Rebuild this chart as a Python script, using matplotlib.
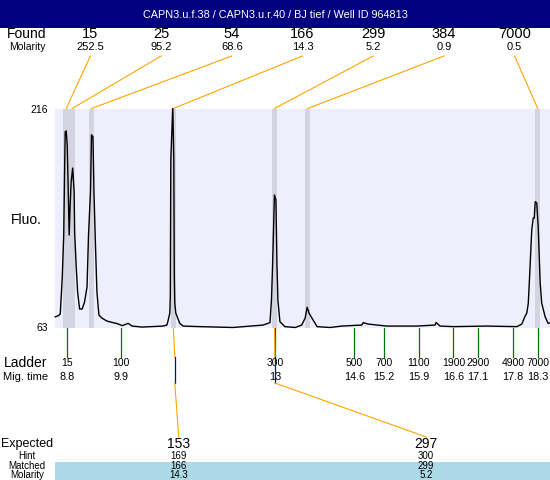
import matplotlib
matplotlib.use('Agg')
import matplotlib.pyplot as plt
from matplotlib.patches import Rectangle

plt.rcParams['font.family'] = ['Liberation Sans', 'DejaVu Sans']

title = 'CAPN3.u.f.38 / CAPN3.u.r.40 / BJ tief / Well ID 964813'

# electropherogram trace
trace_time = [8.57, 8.63, 8.67, 8.71, 8.74, 8.76, 8.77, 8.79, 8.81, 8.83,
              8.85, 8.87, 8.89, 8.92, 8.95, 8.96, 8.99, 9.02, 9.06, 9.11,
              9.16, 9.21, 9.24, 9.28, 9.30, 9.33, 9.35, 9.38, 9.41, 9.45,
              9.51, 9.61, 9.71, 9.82, 9.92, 10.04, 10.12, 10.32, 10.74, 10.82,
              10.84, 10.88, 10.89, 10.90, 10.92, 10.94, 10.95, 10.96, 10.97, 10.98,
              11.00, 11.08, 11.15, 11.49, 12.15, 12.76, 12.90, 12.93, 12.95, 12.97,
              12.99, 13.02, 13.04, 13.06, 13.10, 13.20, 13.41, 13.54, 13.61, 13.65,
              13.69, 13.77, 13.85, 14.11, 14.35, 14.75, 14.78, 14.88, 15.25, 15.86,
              16.23, 16.25, 16.33, 16.60, 17.27, 17.88, 17.98, 18.04, 18.08, 18.11,
              18.14, 18.18, 18.21, 18.23, 18.25, 18.28, 18.31, 18.35, 18.38, 18.45,
              18.51, 18.55]
trace_fluo = [70.5, 71.2, 72.4, 97.6, 127.6, 178.6, 199.8, 200.3, 190.5, 160.4,
              127.6, 148.6, 164.7, 174.4, 157.7, 129.7, 106.7, 87.8, 75.9, 75.9,
              80.8, 91.3, 127.6, 157.7, 197.6, 196.2, 157.0, 120.7, 87.8, 71.7,
              69.6, 67.5, 66.6, 65.7, 64.3, 65.9, 64.0, 63.3, 64.0, 64.7,
              67.1, 73.1, 85.0, 180.1, 198.9, 216.0, 198.9, 180.1, 100.0, 80.0,
              73.1, 65.9, 64.0, 63.6, 63.0, 64.7, 66.4, 82.2, 103.2, 129.0,
              155.6, 152.1, 108.1, 82.2, 67.1, 63.6, 63.0, 64.7, 69.6, 77.1,
              72.9, 68.2, 63.6, 63.0, 64.0, 64.7, 66.4, 65.4, 64.0, 64.0,
              64.7, 66.5, 64.0, 63.6, 64.0, 63.6, 65.4, 70.5, 73.1, 79.9,
              101.1, 131.1, 139.5, 139.5, 150.9, 150.0, 133.4, 94.1, 80.1, 70.5,
              65.9, 66.1]

found_size = [15, 25, 54, 166, 299, 384, 7000]
found_molarity = ['252.5', '95.2', '68.6', '14.3', '5.2', '0.9', '0.5']
found_time = [8.79, 8.91, 9.30, 10.95, 12.99, 13.66, 18.30]

ladder_size = [15, 100, 300, 500, 700, 1100, 1900, 2900, 4900, 7000]
ladder_time = [8.8, 9.9, 13, 14.6, 15.2, 15.9, 16.6, 17.1, 17.8, 18.3]

expected_size = [153, 297]
expected_hint = [169, 300]
expected_matched = [166, 299]
expected_molarity = ['14.3', '5.2']
expected_found_time = [10.95, 12.99]
matched_time = [10.98, 13.0]

fluo_min, fluo_max = 63, 216
time_min, time_max = 8.564, 18.548

W, H = 550, 480
fig = plt.figure(figsize=(5.5, 4.8), dpi=100)
bg = fig.add_axes([0, 0, 1, 1])
bg.set_xlim(0, W)
bg.set_ylim(H, 0)
bg.axis('off')

px0, px1, py0, py1 = 55, 550, 108.5, 327.5
ax = fig.add_axes([px0 / W, 1 - py1 / H, (px1 - px0) / W, (py1 - py0) / H])
ax.set_xlim(time_min, time_max)
ax.set_ylim(fluo_min, fluo_max)
ax.set_facecolor('#EEEEFC')
for s in ax.spines.values():
    s.set_visible(False)
ax.set_xticks([])
ax.set_yticks([])
for t in found_time:
    ax.axvspan(t - 0.055, t + 0.055, color='#D4D4E0', lw=0, zorder=1)
ax.plot(trace_time, trace_fluo, color='black', lw=1, zorder=2, clip_on=False)


def tx(t):
    # time -> pixel x on the background axes
    xd = ax.transData.transform((t, fluo_min))[0]
    return bg.transData.inverted().transform((xd, 0))[0]


orange = '#FFA500'
green = '#007000'

# header
bg.add_patch(Rectangle((0, 0), W, 28, color='#000080', lw=0))
bg.text(W / 2, 14.5, title, color='white', fontsize=7.8, ha='center', va='center')

# found row
bg.text(27, 34, 'Found', fontsize=10, ha='center', va='center')
bg.text(27, 47, 'Molarity', fontsize=7.5, ha='center', va='center')
n = len(found_size)
for i, (sz, mol, t) in enumerate(zip(found_size, found_molarity, found_time)):
    x = px0 + (i + 0.5) * (px1 - px0) / n
    bg.text(x, 34, str(sz), fontsize=10.5, ha='center', va='center')
    bg.text(x, 47, mol, fontsize=8, ha='center', va='center')
    bg.plot([x, tx(t)], [56, py0], color=orange, lw=0.8)

# y range labels
bg.text(48, 110, str(fluo_max), fontsize=7.5, ha='right', va='center')
bg.text(48, 328, str(fluo_min), fontsize=7.5, ha='right', va='center')
bg.text(26, 220, 'Fluo.', fontsize=10, ha='center', va='center')

# ladder
bg.text(26, 363, 'Ladder', fontsize=10, ha='center', va='center')
bg.text(26, 377, 'Mig. time', fontsize=8, ha='center', va='center')
for sz, t in zip(ladder_size, ladder_time):
    x = tx(t)
    bg.plot([x, x], [328, 357], color=green, lw=0.9)
    bg.text(x, 363, str(sz), fontsize=7.5, ha='center', va='center')
    bg.text(x, 377, f'{t:g}', fontsize=7.8, ha='center', va='center')

# expected table
bg.add_patch(Rectangle((px0, 462), px1 - px0, H - 462, color='#ADD8E6', lw=0))
bg.text(27, 444, 'Expected', fontsize=9, ha='center', va='center')
bg.text(27, 456, 'Hint', fontsize=7, ha='center', va='center')
bg.text(27, 466, 'Matched', fontsize=7, ha='center', va='center')
bg.text(27, 474.5, 'Molarity', fontsize=7, ha='center', va='center')
m = len(expected_size)
for i in range(m):
    x = px0 + (i + 0.5) * (px1 - px0) / m
    bg.text(x, 444, str(expected_size[i]), fontsize=10, ha='center', va='center')
    bg.text(x, 456, str(expected_hint[i]), fontsize=7, ha='center', va='center')
    bg.text(x, 466, str(expected_matched[i]), fontsize=7, ha='center', va='center')
    bg.text(x, 474.5, expected_molarity[i], fontsize=7, ha='center', va='center')
    xp = tx(expected_found_time[i])
    xm = tx(matched_time[i])
    bg.plot([xp, xm], [py1, 357], color=orange, lw=0.8, zorder=3)
    bg.plot([xm, xm], [357, 383], color='#0000DD', lw=0.9, zorder=3)
    bg.plot([xm, x], [383, 437], color=orange, lw=0.8, zorder=3)

fig.savefig('out.png', dpi=100)
